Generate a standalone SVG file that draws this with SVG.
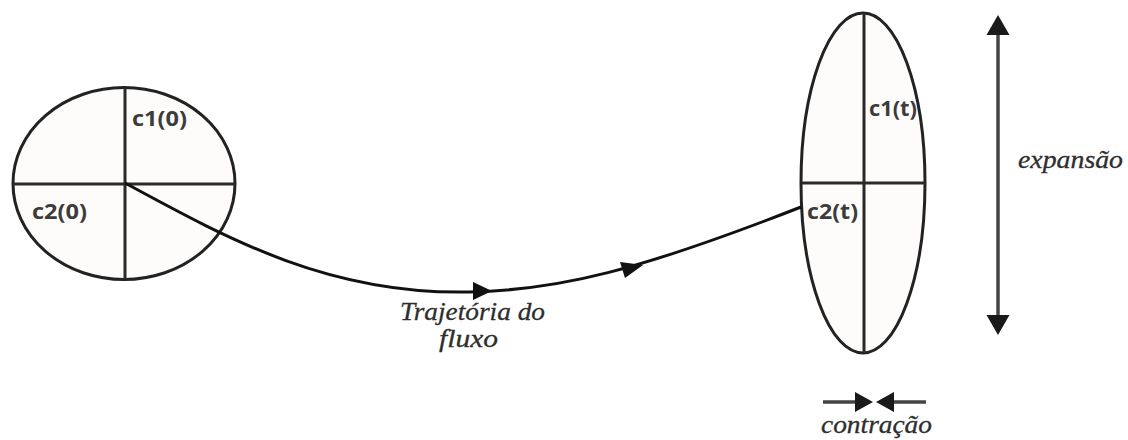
<svg xmlns="http://www.w3.org/2000/svg" width="1128" height="440" viewBox="0 0 1128 440">
  <style>
    .shape { fill: #fdfcfa; stroke: #222; stroke-width: 3; }
    .axis { stroke: #2a2a2a; stroke-width: 3; fill: none; }
    .lbl { font-family: "Open Sans", "Liberation Sans", sans-serif; font-weight: 700; font-size: 21px; fill: #3c3c3c; }
    .it { font-family: "Liberation Serif", serif; font-style: italic; font-size: 26px; fill: #2e2e2e; stroke: #2e2e2e; stroke-width: 0.3; }
    .flow { stroke: #111; stroke-width: 3; fill: none; }
    .dim { stroke: #444; stroke-width: 3.5; fill: none; }
  </style>

  <rect width="1128" height="440" fill="#ffffff"/>

  <!-- initial circular element, quartered -->
  <g id="element-initial">
    <ellipse class="shape" cx="124" cy="183.5" rx="111" ry="96"/>
    <line class="axis" x1="13" y1="184" x2="235" y2="184"/>
    <line class="axis" x1="125" y1="88" x2="125" y2="279"/>
    <text class="lbl" x="132" y="126" textLength="55" lengthAdjust="spacingAndGlyphs">c1(0)</text>
    <text class="lbl" x="32" y="219" textLength="55" lengthAdjust="spacingAndGlyphs">c2(0)</text>
  </g>

  <!-- deformed element after time t -->
  <g id="element-deformed">
    <ellipse class="shape" cx="863" cy="183" rx="62" ry="170"/>
    <line class="axis" x1="801" y1="183" x2="925" y2="183"/>
    <line class="axis" x1="864" y1="13" x2="864" y2="353"/>
    <text class="lbl" x="869" y="116" textLength="48" lengthAdjust="spacingAndGlyphs">c1(t)</text>
    <text class="lbl" x="807" y="219" textLength="51" lengthAdjust="spacingAndGlyphs">c2(t)</text>
  </g>

  <!-- flow trajectory -->
  <g id="connectors">
    <path class="flow" d="M125,183 C230,240 330,295 470,292 C560,290 640,270 801,207"/>
    <path d="M473,282 L492,291 L473,300 Z" fill="#111"/>
    <path d="M620,262 L643,265 L625,278 Z" fill="#111"/>
  </g>

  <g id="label-trajectory">
    <text class="it" x="400" y="320" textLength="145" lengthAdjust="spacingAndGlyphs">Trajetória do</text>
    <text class="it" x="439" y="347" textLength="59" lengthAdjust="spacingAndGlyphs">fluxo</text>
  </g>

  <!-- expansion indicator -->
  <g id="expansion">
    <line class="dim" x1="998" y1="30" x2="998" y2="320"/>
    <path d="M986.5,35 L998,15 L1009.5,35 Z" fill="#1a1a1a"/>
    <path d="M986.5,315 L998,335 L1009.5,315 Z" fill="#1a1a1a"/>
    <text class="it" x="1018" y="168" textLength="105" lengthAdjust="spacingAndGlyphs">expansão</text>
  </g>

  <!-- contraction indicator -->
  <g id="contraction">
    <line class="dim" x1="823" y1="402" x2="860" y2="402"/>
    <line class="dim" x1="890" y1="402" x2="926" y2="402"/>
    <path d="M855,392 L873,402 L855,412 Z" fill="#1a1a1a"/>
    <path d="M894,392 L876,402 L894,412 Z" fill="#1a1a1a"/>
    <text class="it" x="821" y="433" textLength="111" lengthAdjust="spacingAndGlyphs">contração</text>
  </g>
</svg>
